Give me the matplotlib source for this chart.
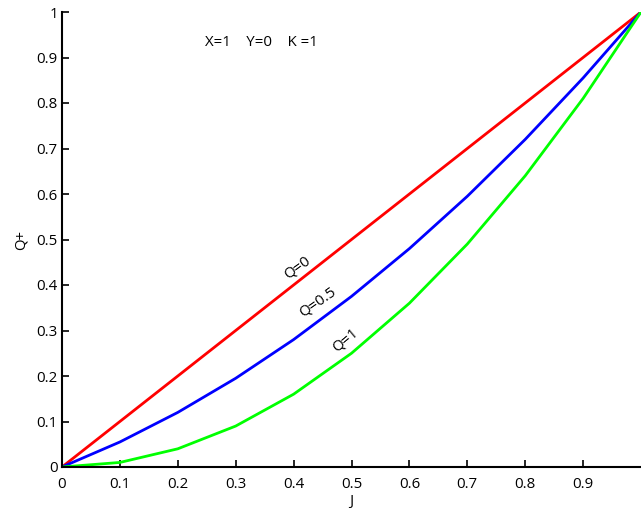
import matplotlib
matplotlib.use("Agg")
import matplotlib.pyplot as plt

J = [0, 0.1, 0.2, 0.3, 0.4, 0.5, 0.6, 0.7, 0.8, 0.9, 1.0]
q0 = [0, 0.1, 0.2, 0.3, 0.4, 0.5, 0.6, 0.7, 0.8, 0.9, 1.0]
q05 = [0, 0.055, 0.12, 0.195, 0.28, 0.375, 0.48, 0.595, 0.72, 0.855, 1.0]
q1 = [0, 0.01, 0.04, 0.09, 0.16, 0.25, 0.36, 0.49, 0.64, 0.81, 1.0]
xticks = [0, 0.1, 0.2, 0.3, 0.4, 0.5, 0.6, 0.7, 0.8, 0.9]
xticklabels = ["0", "0.1", "0.2", "0.3", "0.4", "0.5", "0.6", "0.7", "0.8", "0.9"]
yticks = [0, 0.1, 0.2, 0.3, 0.4, 0.5, 0.6, 0.7, 0.8, 0.9, 1.0]
yticklabels = ["0", "0.1", "0.2", "0.3", "0.4", "0.5", "0.6", "0.7", "0.8", "0.9", "1"]

plt.rcParams['font.family'] = ['Open Sans', 'DejaVu Sans']
fs = 10.8
fig = plt.figure(figsize=(6.41, 5.08), dpi=100)
ax = fig.add_axes([62/641, 1-467/508, 579/641, 455/508])
ax.plot(J, q0, color='#ff0000', lw=2)
ax.plot(J, q05, color='#0000ff', lw=2)
ax.plot(J, q1, color='#00ff00', lw=2)
ax.set_xlim(0, 1)
ax.set_ylim(0, 1)
ax.set_xticks(xticks)
ax.set_xticklabels(xticklabels)
ax.set_yticks(yticks)
ax.set_yticklabels(yticklabels)
ax.tick_params(direction='in', length=5, width=1.2, labelsize=fs, pad=3)
ax.tick_params(axis='x', pad=7)
ax.spines['top'].set_visible(False)
ax.spines['right'].set_visible(False)
for s in ['left', 'bottom']:
    ax.spines[s].set_linewidth(1.5)
ax.set_xlabel('J', fontsize=fs, labelpad=2)
ax.set_ylabel('Q+', fontsize=fs, labelpad=6)
ax.text(0.247, 0.934, 'X=1    Y=0    K =1', fontsize=fs, va='center', ha='left')
ax.text(0.407, 0.437, 'Q=0', fontsize=fs, rotation=36, ha='center', va='center')
ax.text(0.441, 0.363, 'Q=0.5', fontsize=fs, rotation=35, ha='center', va='center')
ax.text(0.49, 0.279, 'Q=1', fontsize=fs, rotation=40, ha='center', va='center')
fig.savefig('out.png', dpi=100)
